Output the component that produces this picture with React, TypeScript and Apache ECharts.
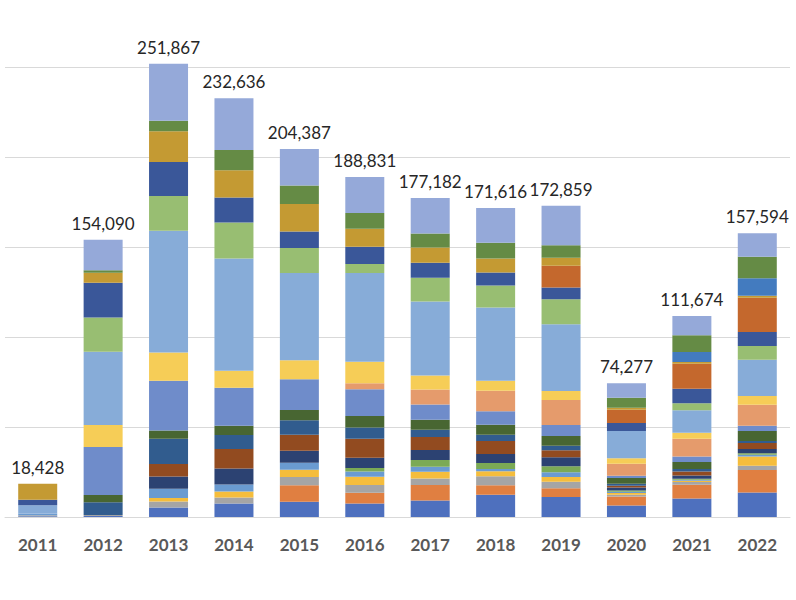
import React, { useEffect, useRef } from 'react';
import * as echarts from 'echarts';

const years = ['2011', '2012', '2013', '2014', '2015', '2016', '2017', '2018', '2019', '2020', '2021', '2022'];
const totals = [18428, 154090, 251867, 232636, 204387, 188831, 177182, 171616, 172859, 74277, 111674, 157594];

// stack order, bottom to top
const s1 = [400, 500, 5330, 7560, 8520, 7560, 9220, 12400, 11110, 6440, 10330, 13670];
const s2 = [0, 0, 0, 0, 9070, 5930, 8520, 5190, 4820, 5000, 7590, 12410];
const s3 = [600, 600, 3330, 3330, 4630, 4260, 3700, 5000, 3700, 930, 1480, 2410];
const s4 = [0, 0, 1850, 3330, 4070, 4630, 3700, 2780, 2590, 930, 740, 5190];
const s5 = [900, 0, 5190, 3890, 3890, 2960, 2780, 1300, 2590, 740, 560, 930];
const s6 = [0, 0, 0, 0, 0, 1850, 3700, 3330, 3330, 740, 560, 740];
const s7 = [0, 0, 6850, 8890, 6670, 5740, 5560, 5000, 5000, 1670, 1850, 2410];
const s8 = [0, 0, 6850, 10740, 8890, 10560, 7220, 7220, 3890, 930, 2220, 3330];
const s9 = [0, 7030, 14080, 7780, 7960, 6300, 4070, 3520, 2590, 1110, 1300, 1110];
const s10 = [0, 4070, 4630, 5190, 5740, 6300, 5560, 5560, 5370, 3150, 3890, 5560];
const s11 = [0, 26670, 27600, 21110, 17040, 14820, 8520, 7410, 6110, 1300, 3150, 2960];
const s12 = [0, 0, 0, 0, 0, 3330, 8330, 11480, 13890, 6670, 9820, 11670];
const s13 = [0, 12220, 15740, 9440, 10560, 12040, 7780, 5560, 5000, 2960, 3330, 4820];
const s14 = [4600, 40740, 67627, 62296, 48467, 49221, 41112, 40686, 37129, 15227, 12434, 20204];
const s15 = [0, 19070, 19260, 20000, 13890, 5000, 13150, 12220, 13890, 0, 3890, 7590];
const s16 = [3080, 19260, 18890, 13890, 9260, 9630, 8330, 7220, 6480, 4440, 8150, 7780];
const s17 = [0, 0, 0, 0, 0, 0, 0, 0, 12040, 7410, 13890, 19070];
const s18 = [8848, 5560, 17040, 15190, 15190, 10000, 8520, 7780, 4440, 1110, 930, 1110];
const s19 = [0, 0, 0, 0, 0, 0, 0, 0, 0, 0, 5560, 9630];
const s20 = [0, 1300, 5930, 11300, 10370, 8700, 7780, 8700, 7040, 5560, 9260, 12040];
const s21 = [0, 17070, 31670, 28700, 20170, 20000, 19630, 19260, 21850, 7960, 10740, 12960];

const stackData = [s1, s2, s3, s4, s5, s6, s7, s8, s9, s10, s11, s12, s13, s14, s15, s16, s17, s18, s19, s20, s21];
const colors = [
  '#4E70BE', '#E07F41', '#A5A5A5', '#F5BD3C', '#6A9BD1', '#7BAA55', '#2C4272',
  '#924B20', '#315C8E', '#486632', '#6F8CCA', '#E59B6C', '#F6CD57', '#87ACD8',
  '#98BE72', '#3A5799', '#C4682D', '#C49A33', '#437BBF', '#658B45', '#95A9D9',
];

const App: React.FC = () => {
  const chartRef = useRef<HTMLDivElement>(null);

  useEffect(() => {
    document.body.style.margin = '0';
    if (!chartRef.current) return;
    const chart = echarts.init(chartRef.current, null, { renderer: 'svg' });

    const stacked = stackData.map((d, i) => ({
      name: `Series ${i + 1}`,
      type: 'bar' as const,
      stack: 'total',
      barWidth: 39,
      clip: false,
      itemStyle: { color: colors[i] },
      data: d,
    }));

    chart.setOption({
      animation: false,
      grid: { left: 5, right: 6, top: 67, bottom: 83, containLabel: false },
      xAxis: {
        type: 'category',
        data: years,
        axisLine: { show: true, lineStyle: { color: '#D9D9D9', width: 1 } },
        axisTick: { show: false },
        axisLabel: {
          margin: 19,
          color: '#595959',
          fontSize: 17,
          fontWeight: 'bold',
          fontFamily: 'Lato, "Open Sans", sans-serif',
        },
      },
      yAxis: {
        type: 'value',
        min: 0,
        max: 250000,
        interval: 50000,
        axisLabel: { show: false },
        axisLine: { show: false },
        axisTick: { show: false },
        splitLine: { lineStyle: { color: '#D9D9D9', width: 1 } },
      },
      series: [
        ...stacked,
        {
          name: 'Total',
          type: 'bar',
          barWidth: 39,
          barGap: '-100%',
          clip: false,
          z: 1,
          itemStyle: { color: 'rgba(0,0,0,0)' },
          label: {
            show: true,
            position: 'top',
            distance: 8,
            color: '#262626',
            fontSize: 17,
            fontFamily: 'Lato, "Open Sans", sans-serif',
            formatter: (p: any) => p.value.toLocaleString('en-US'),
          },
          data: totals,
        },
      ],
    });

    return () => {
      chart.dispose();
    };
  }, []);

  return <div ref={chartRef} style={{ width: 796, height: 600 }} />;
};

export default App;
